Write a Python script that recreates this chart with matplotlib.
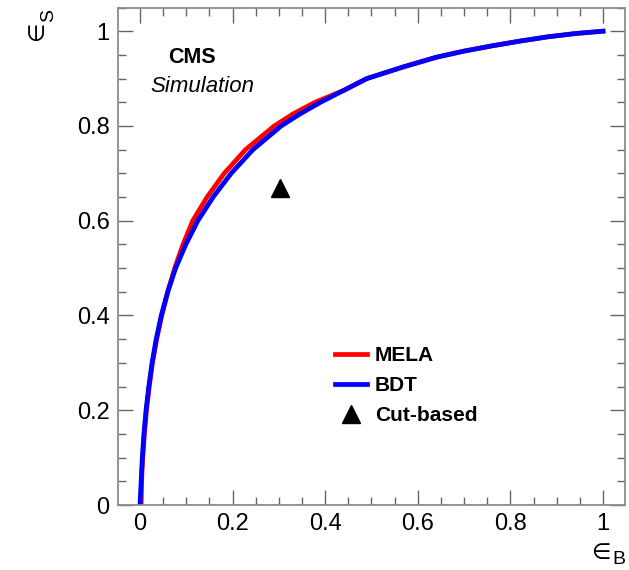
import matplotlib
matplotlib.use("Agg")
import matplotlib.pyplot as plt
from matplotlib.ticker import MultipleLocator

plt.rcParams["font.family"] = ["Liberation Sans", "DejaVu Sans"]

# --- ROC points (eps_B, eps_S)
mela_b = [0.0025, 0.003, 0.0035, 0.0045, 0.006, 0.0095, 0.014, 0.020, 0.027, 0.036,
          0.047, 0.060, 0.075, 0.093, 0.114, 0.145, 0.182, 0.228, 0.29, 0.33,
          0.378, 0.44, 0.49, 0.57, 0.64, 0.70, 0.76, 0.82, 0.88, 0.94, 1.0]
mela_s = [0.0, 0.025, 0.05, 0.075, 0.1, 0.15, 0.2, 0.25, 0.3, 0.35,
          0.4, 0.45, 0.5, 0.55, 0.6, 0.65, 0.7, 0.75, 0.8, 0.825,
          0.85, 0.875, 0.9, 0.925, 0.945, 0.958, 0.969, 0.979, 0.988, 0.995, 1.0]

bdt_b = [0.0, 0.0012, 0.0025, 0.0037, 0.005, 0.0085, 0.013, 0.019, 0.026, 0.035,
         0.046, 0.060, 0.077, 0.099, 0.125, 0.158, 0.197, 0.244, 0.305, 0.345,
         0.39, 0.44, 0.49, 0.57, 0.64, 0.70, 0.76, 0.82, 0.88, 0.94, 1.0]
bdt_s = [0.0, 0.025, 0.05, 0.075, 0.1, 0.15, 0.2, 0.25, 0.3, 0.35,
         0.4, 0.45, 0.5, 0.55, 0.6, 0.65, 0.7, 0.75, 0.8, 0.825,
         0.85, 0.875, 0.9, 0.925, 0.945, 0.958, 0.969, 0.979, 0.988, 0.995, 1.0]

cut_b = [0.302]
cut_s = [0.669]

tick_vals = [0, 0.2, 0.4, 0.6, 0.8, 1.0]
tick_text = ["0", "0.2", "0.4", "0.6", "0.8", "1"]

W, H = 629, 570
fig = plt.figure(figsize=(6.29, 5.70), dpi=100)
ax = fig.add_axes([118 / W, 65 / H, 507 / W, 497.5 / H])

ax.plot(mela_b, mela_s, color="#ff0000", lw=3.4, label="MELA", solid_joinstyle="round")
ax.plot(bdt_b, bdt_s, color="#0000ff", lw=3.4, label="BDT", solid_joinstyle="round")
ax.plot(cut_b, cut_s, ls="none", marker="^", ms=13, color="black", label="Cut-based")

ax.set_xlim(-0.0475, 1.0475)
ax.set_ylim(0, 1.05)

ax.xaxis.set_minor_locator(MultipleLocator(0.05))
ax.yaxis.set_minor_locator(MultipleLocator(0.05))
ax.set_xticks(tick_vals)
ax.set_xticklabels(tick_text)
ax.set_yticks(tick_vals)
ax.set_yticklabels(tick_text)

ax.tick_params(which="both", direction="in", top=True, right=True, color="#666666",
               labelsize=17)
ax.tick_params(which="major", length=11, width=1.0, pad=6)
ax.tick_params(which="minor", length=5.5, width=1.0)
for sp in ax.spines.values():
    sp.set_color("#8c8c8c")
    sp.set_linewidth(1.3)

# axis titles at the ends, ROOT style (epsilon drawn as the "element of" glyph)
def px(x, y):
    return x / W, 1 - y / H

fig.text(*px(37, 31), "\u2208", family="DejaVu Sans", fontsize=16, rotation=90,
         ha="center", va="center")
fig.text(*px(49, 15), "S", fontsize=14, rotation=90, ha="center", va="center")
fig.text(*px(601, 553), "\u2208", family="DejaVu Sans", fontsize=16,
         ha="center", va="center")
fig.text(*px(618.5, 560), "B", fontsize=14, ha="center", va="center")

fig.text(*px(168, 63), "CMS", fontsize=15.5, fontweight="bold",
         ha="left", va="baseline")
fig.text(*px(150, 92.5), "Simulation", fontsize=16, style="italic",
         ha="left", va="baseline")

leg = ax.legend(loc="upper left", bbox_to_anchor=px(335, 346),
                bbox_transform=fig.transFigure, frameon=False,
                prop={"size": 15, "weight": "bold"}, handlelength=1.54,
                handletextpad=0.38, labelspacing=0.53, borderpad=0, borderaxespad=0)

fig.savefig("out.png", dpi=100)
